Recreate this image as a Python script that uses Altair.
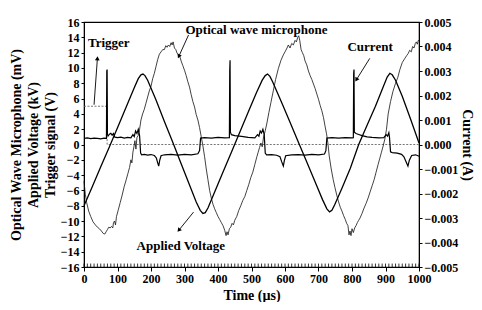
import altair as alt
import pandas as pd

# ---------------- data ----------------
opt_time = [0, 4, 8, 14, 20, 27, 34, 40, 46, 52, 57, 62, 66, 70, 74, 78, 82, 86, 88, 91, 94, 97, 102, 108,
            114, 120, 126, 131, 136, 140, 143, 146, 149, 152, 155, 158, 162, 166, 170, 175, 180, 185, 190,
            195, 200, 205, 210, 215, 220, 225, 230, 235, 240, 244, 248, 252, 256, 260, 263, 266, 270, 274,
            278, 282, 286, 290, 295, 300, 305, 310, 315, 320, 325, 330, 335, 340, 345, 350, 355, 360, 365,
            370, 375, 380, 385, 390, 395, 400, 405, 410, 415, 420, 424, 427, 430, 434, 438, 442, 446, 450,
            456, 462, 468, 474, 480, 486, 492, 498, 504, 510, 516, 520, 524, 528, 532, 536, 541, 546, 552,
            558, 565, 572, 580, 588, 595, 600, 606, 610, 615, 620, 625, 630, 634, 638, 641, 644, 648, 652,
            656, 660, 665, 670, 675, 680, 685, 690, 695, 700, 705, 710, 715, 720, 724, 728, 732, 738, 744,
            749, 755, 760, 765, 770, 775, 780, 784, 788, 791, 794, 797, 800, 804, 808, 812, 816, 820, 824,
            830, 836, 842, 848, 854, 860, 866, 872, 878, 883, 888, 893, 898, 903, 908, 915, 922, 930, 937,
            943, 950, 957, 963, 968, 972, 977, 981, 985, 989, 992, 995, 998, 1000]
optical = [-4.8, -6.5, -7.6, -8.7, -9.4, -10.1, -10.5, -10.8, -11.0, -11.3, -11.6, -11.7, -11.4, -11.1,
           -10.8, -10.9, -10.7, -10.9, -10.2, -10.0, -10.5, -9.4, -8.6, -7.6, -6.6, -5.5, -4.6, -3.8, -3.0,
           -2.0, -2.4, -1.0, -0.3, 0.5, -0.6, 0.9, 1.2, 2.0, 3.2, 4.0, 4.6, 5.4, 6.2, 7.0, 7.6, 8.6, 9.3,
           10.2, 11.1, 11.8, 12.1, 12.4, 12.4, 12.9, 12.7, 13.0, 12.8, 13.3, 13.0, 13.4, 12.6, 12.4, 11.9,
           11.8, 11.5, 10.9, 10.3, 9.7, 9.0, 8.2, 7.5, 6.5, 5.6, 4.9, 3.9, 3.2, 2.2, 1.0, -0.2, -1.6, -3.2,
           -4.6, -6.0, -7.0, -7.8, -8.4, -8.9, -9.4, -9.8, -10.2, -10.6, -11.2, -11.9, -11.4, -11.8, -11.0,
           -10.8, -10.3, -10.5, -9.9, -9.4, -8.6, -8.0, -7.3, -6.8, -6.0, -5.2, -4.3, -3.6, -2.6, -1.6,
           -1.0, -0.4, 0.2, -0.3, 1.0, 1.8, 2.8, 4.2, 5.5, 7.0, 8.5, 9.9, 11.0, 11.7, 12.1, 12.6, 13.0,
           12.6, 13.2, 13.0, 13.6, 13.4, 14.0, 14.2, 13.6, 12.4, 12.0, 11.6, 10.9, 10.4, 9.6, 9.0, 8.5, 7.9,
           7.3, 6.6, 5.9, 5.1, 4.4, 3.5, 2.3, 1.4, 0.2, -1.5, -3.2, -4.6, -5.6, -6.7, -7.5, -8.2, -8.7,
           -9.3, -9.8, -10.3, -10.6, -11.8, -11.3, -11.9, -11.0, -11.5, -10.9, -10.6, -10.2, -9.9, -9.6,
           -9.0, -8.3, -7.7, -7.0, -6.2, -5.4, -4.6, -3.6, -2.6, -1.8, -1.0, -0.2, 0.7, 2.0, 4.0, 5.6, 6.9,
           8.0, 8.8, 9.8, 10.7, 11.2, 11.6, 11.9, 12.3, 12.1, 12.8, 12.6, 13.2, 13.4, 13.1, 13.6, 13.5]

volt_time = [0, 25, 50, 75, 100, 125, 150, 162, 170, 176, 182, 190, 215, 240, 265, 290, 315, 335, 347,
             355, 362, 370, 390, 415, 440, 465, 490, 515, 532, 541, 548, 555, 563, 590, 615, 640, 665,
             690, 712, 725, 733, 740, 748, 770, 795, 820, 845, 870, 893, 905, 913, 920, 930, 950, 975, 1000]
voltage = [-8.0, -5.5, -2.9, -0.4, 2.2, 4.8, 7.4, 8.6, 9.1, 9.2, 9.0, 8.4, 5.8, 3.0, 0.3, -2.5, -5.3,
           -7.5, -8.6, -9.0, -8.9, -8.3, -6.2, -3.6, -1.0, 1.6, 4.2, 6.8, 8.4, 9.0, 9.2, 8.9, 8.2, 5.5,
           2.9, 0.3, -2.3, -4.9, -7.2, -8.4, -8.8, -8.6, -7.9, -5.7, -3.1, 0.0, 2.5, 5.0, 7.5, 8.8, 9.3,
           9.1, 8.4, 6.3, 3.3, 0.2]

cur_time = [0, 10, 20, 30, 40, 50, 60, 67, 68, 69, 70, 72, 76, 80, 84, 88, 92, 100, 110, 120, 130, 140,
            146, 150, 154, 158, 162, 166, 169, 172, 180, 190, 200, 210, 216, 220, 223, 226, 230, 240, 260,
            280, 300, 320, 340, 345, 348, 360, 380, 400, 420, 434, 435, 436, 437, 440, 450, 470, 490, 510,
            518, 522, 526, 530, 534, 538, 541, 545, 560, 575, 585, 590, 595, 598, 602, 620, 640, 660, 680,
            700, 718, 722, 725, 740, 760, 780, 800, 804, 805, 806, 807, 812, 820, 830, 845, 860, 880, 895,
            902, 906, 910, 912, 915, 920, 935, 948, 955, 962, 967, 971, 978, 990, 1000]
current = [0.00025, 0.00027, 0.00024, 0.00026, 0.00025, 0.00023, 0.00026, 0.00025, 0.0030, 0.00306,
           0.00040, 0.00035, 0.00042, 0.00046, 0.00038, 0.00045, 0.00030, 0.00028, 0.00030, 0.00026,
           0.00029, 0.00027, 0.00040, 0.00032, 0.00055, 0.00045, 0.00062, 0.00035, -0.00035, -0.00042,
           -0.00040, -0.00043, -0.00041, -0.00045, -0.00055, -0.00075, -0.00088, -0.00065, -0.00046,
           -0.00042, -0.00040, -0.00043, -0.00040, -0.00042, -0.00038, -0.00025, 0.00026, 0.00028,
           0.00026, 0.00029, 0.00027, 0.00028, 0.0030, 0.00344, 0.00050, 0.00040, 0.00036, 0.00033,
           0.00029, 0.00027, 0.00040, 0.00034, 0.00055, 0.00047, 0.00062, 0.00040, -0.00035, -0.00042,
           -0.00041, -0.00044, -0.00050, -0.00070, -0.00088, -0.00066, -0.00046, -0.00042, -0.00041,
           -0.00043, -0.00040, -0.00042, -0.00039, -0.00025, 0.00026, 0.00028, 0.00026, 0.00028, 0.00027,
           0.00028, 0.0029, 0.00306, 0.00050, 0.00045, 0.00041, 0.00036, 0.00031, 0.00029, 0.00027,
           0.00028, 0.00040, 0.00034, 0.00048, 0.00028, -0.00030, -0.00033, -0.00035, -0.00040, -0.00050,
           -0.00072, -0.00088, -0.00065, -0.00045, -0.00042, -0.00048]

trig_time = [0, 69, 69, 1000]
trigger = [5, 5, 0, 0]

x_ticks = list(range(0, 1001, 100))
minor_ticks = list(range(0, 1001, 10))
left_ticks = list(range(-16, 17, 2))
right_ticks = [-0.005, -0.004, -0.003, -0.002, -0.001, 0.0, 0.001, 0.002, 0.003, 0.004, 0.005]

labels = ["Trigger", "Optical wave microphone", "Current", "Applied Voltage"]
label_x = [74, 515, 854, 289]
label_y = [13.2, 15.0, 12.8, -13.3]

arrow_x = [30, 312, 853, 327]
arrow_y = [5.2, 14.3, 11.25, -8.83]
arrow_x2 = [40, 283, 813, 283]
arrow_y2 = [11.25, 11.5, 8.45, -11.2]
arrow_angle = [4, 204, 212, 219]

# ---------------- chart ----------------
FONT = "Liberation Serif"

xs = alt.Scale(domain=[0, 1000], nice=False, zero=False)
ys = alt.Scale(domain=[-16, 16], nice=False, zero=False)
rs = alt.Scale(domain=[-0.005, 0.005], nice=False, zero=False)

x_axis = alt.Axis(values=x_ticks, format="d", title="Time (\u00b5s)", tickSize=4, titlePadding=4,
                  labelOverlap=False, labelFlush=False)
y_axis = alt.Axis(values=left_ticks, format="d", tickSize=3,
                  title=["Optical Wave Microphone (mV)", "Applied Voltage (kV)", "Trigger signal (V)"],
                  titleLineHeight=17, titlePadding=3, labelOverlap=False)

X = alt.X("x:Q", scale=xs, axis=x_axis)
Y = alt.Y("y:Q", scale=ys, axis=y_axis)

df_opt = pd.DataFrame({"x": opt_time, "y": optical})
df_volt = pd.DataFrame({"x": volt_time, "y": voltage})
df_trig = pd.DataFrame({"x": trig_time, "y": trigger})
df_cur = pd.DataFrame({"x": cur_time, "c": current})
df_minor = pd.DataFrame({"x": minor_ticks})
df_lab = pd.DataFrame({"x": label_x, "y": label_y, "t": labels})
df_arr = pd.DataFrame({"x": arrow_x, "y": arrow_y, "x2": arrow_x2, "y2": arrow_y2, "a": arrow_angle})

trig_line = alt.Chart(df_trig).mark_line(color="#666666", strokeWidth=0.9, strokeDash=[2, 1.5]).encode(
    x=X, y=Y, order="o:O").transform_window(o="row_number()")
opt_line = alt.Chart(df_opt).mark_line(color="#111111", strokeWidth=0.8).encode(x=X, y=Y)
volt_line = alt.Chart(df_volt).mark_line(color="#000000", strokeWidth=1.3).encode(x=X, y=Y)
minor = alt.Chart(df_minor).mark_rule(color="black", strokeWidth=0.8).encode(
    x=X, y=alt.datum(-16, scale=ys, axis=y_axis), y2=alt.datum(-15.55))
texts = alt.Chart(df_lab).mark_text(font=FONT, fontWeight="bold", fontSize=13, color="black").encode(
    x=X, y=Y, text="t:N")
arrows = alt.Chart(df_arr).mark_rule(color="black", strokeWidth=0.9).encode(
    x=X, y=Y, x2="x2:Q", y2="y2:Q")
heads = alt.Chart(df_arr).mark_point(shape="triangle-up", filled=True, color="black", size=22, opacity=1).encode(
    x=alt.X("x2:Q", scale=xs, axis=x_axis), y=alt.Y("y2:Q", scale=ys, axis=y_axis), angle=alt.Angle("a:Q", scale=None))

left = alt.layer(trig_line, opt_line, volt_line, minor, arrows, heads, texts)

cur_line = alt.Chart(df_cur).mark_line(color="#000000", strokeWidth=1.2).encode(
    x=X,
    y=alt.Y("c:Q", scale=rs, axis=alt.Axis(values=right_ticks, format=".3f", orient="right",
                                           title="Current (A)", tickSize=3, titlePadding=2,
                                           labelOverlap=False)))

chart = alt.layer(left, cur_line).resolve_scale(y="independent").properties(
    width=466, height=294,
    autosize=alt.AutoSizeParams(type="fit", contains="padding"),
    padding={"left": 1, "right": 0, "top": 8, "bottom": 0},
    background="white",
).configure_view(stroke="black", strokeWidth=1.2).configure_axis(
    labelFont=FONT, labelFontWeight="bold", labelFontSize=12, labelColor="black",
    titleFont=FONT, titleFontWeight="bold", titleFontSize=14, titleColor="black",
    domainColor="black", tickColor="black", grid=False, labelPadding=2,
)

chart.save("out.html", embed_options={"renderer": "svg", "actions": False})
